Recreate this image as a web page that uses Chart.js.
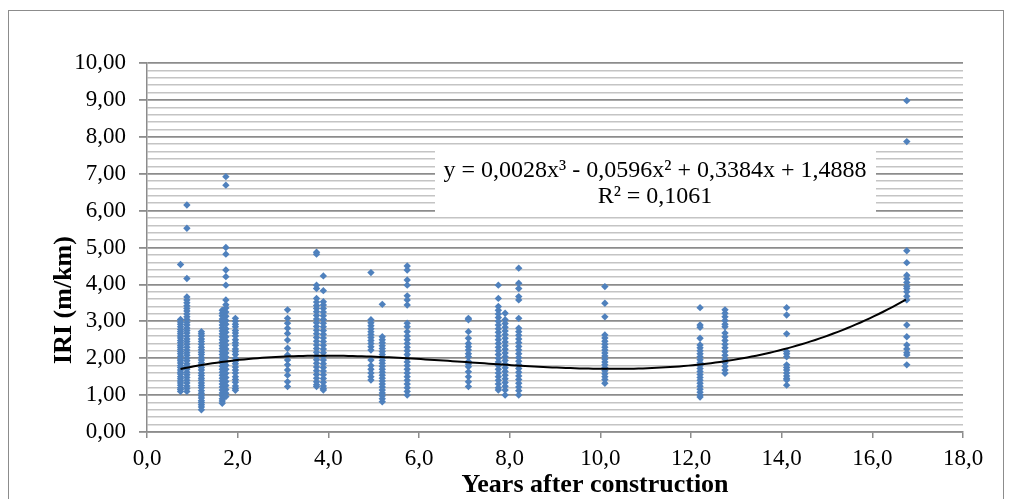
<!DOCTYPE html>
<html>
<head>
<meta charset="utf-8">
<script src="https://cdn.jsdelivr.net/npm/chart.js@4/dist/chart.umd.min.js"></script>
<style>
  body { margin: 0; background: #fff; }
  #wrap { position: absolute; left: 0; top: 0; width: 1011px; height: 499px; }
  #frame { position: absolute; left: 8px; top: 10px; width: 994px; height: 520px; border: 1px solid #8c8c8c; }
  canvas { position: absolute; left: 0; top: 0; }
</style>
</head>
<body>
<div id="wrap">
  <div id="frame"></div>
  <canvas id="iriChart" width="1011" height="499"></canvas>
</div>
<script>
// Years after construction for each measured section group
const ages = [0.74, 0.88, 1.20, 1.66, 1.74, 1.95, 3.10, 3.74, 3.89, 4.94, 5.19, 5.74,
              7.09, 7.75, 7.90, 8.20, 10.10, 12.20, 12.75, 14.11, 16.76];

// IRI readings (m/km) for each group, same order as ages
const iriValues = [
  [4.54, 3.05, 2.98, 2.92, 2.85, 2.78, 2.72, 2.66, 2.60, 2.55, 2.48, 2.42, 2.35, 2.30, 2.24, 2.18, 2.12,
   2.05, 1.98, 1.93, 1.87, 1.80, 1.75, 1.68, 1.62, 1.57, 1.50, 1.44, 1.38, 1.33, 1.27, 1.20, 1.15, 1.10],
  [6.15, 5.52, 4.16, 3.66, 3.58, 3.50, 3.42, 3.35, 3.28, 3.20, 3.12, 3.05, 2.97, 2.90, 2.82, 2.75, 2.68,
   2.60, 2.52, 2.45, 2.38, 2.30, 2.22, 2.15, 2.08, 2.00, 1.93, 1.85, 1.78, 1.70, 1.62, 1.55, 1.48, 1.40,
   1.33, 1.25, 1.18, 1.10],
  [2.72, 2.66, 2.60, 2.52, 2.45, 2.38, 2.30, 2.23, 2.16, 2.10, 2.02, 1.95, 1.88, 1.82, 1.75, 1.68, 1.60,
   1.53, 1.46, 1.40, 1.33, 1.26, 1.20, 1.12, 1.05, 0.98, 0.92, 0.85, 0.80, 0.74, 0.68, 0.60],
  [3.30, 3.22, 3.15, 3.06, 2.98, 2.90, 2.82, 2.74, 2.66, 2.58, 2.50, 2.42, 2.34, 2.26, 2.18, 2.10, 2.02,
   1.94, 1.86, 1.78, 1.70, 1.62, 1.54, 1.46, 1.38, 1.30, 1.22, 1.14, 1.06, 0.98, 0.90, 0.84, 0.78],
  [6.92, 6.69, 5.00, 4.82, 4.39, 4.21, 3.98, 3.58, 3.45, 3.36, 3.25, 3.14, 3.02, 2.92, 2.80, 2.70, 2.58,
   2.47, 2.36, 2.25, 2.14, 2.03, 1.92, 1.81, 1.70, 1.59, 1.48, 1.37, 1.26, 1.15, 1.05, 0.96],
  [3.08, 3.00, 2.92, 2.85, 2.75, 2.68, 2.60, 2.50, 2.42, 2.35, 2.25, 2.18, 2.10, 2.00, 1.92, 1.85, 1.76,
   1.68, 1.60, 1.50, 1.42, 1.35, 1.25, 1.18, 1.13],
  [3.31, 3.08, 2.95, 2.81, 2.67, 2.49, 2.27, 2.09, 1.95, 1.82, 1.68, 1.54, 1.36, 1.23],
  [4.87, 4.82, 3.98, 3.89, 3.62, 3.52, 3.43, 3.35, 3.26, 3.16, 3.06, 2.96, 2.86, 2.76, 2.66, 2.56, 2.46,
   2.36, 2.26, 2.16, 2.06, 1.96, 1.86, 1.76, 1.66, 1.56, 1.46, 1.36, 1.28, 1.23],
  [4.23, 3.83, 3.53, 3.44, 3.35, 3.25, 3.15, 3.05, 2.95, 2.85, 2.75, 2.65, 2.55, 2.45, 2.35, 2.25, 2.15,
   2.05, 1.95, 1.85, 1.75, 1.65, 1.55, 1.45, 1.35, 1.25, 1.18, 1.14],
  [4.32, 3.04, 2.96, 2.88, 2.80, 2.72, 2.64, 2.56, 2.48, 2.40, 2.31, 2.22, 1.95, 1.80, 1.70, 1.60, 1.50, 1.41],
  [3.46, 2.58, 2.50, 2.42, 2.34, 2.26, 2.18, 2.10, 2.02, 1.94, 1.86, 1.78, 1.70, 1.62, 1.54, 1.46, 1.38,
   1.30, 1.22, 1.14, 1.06, 0.98, 0.90, 0.82],
  [4.50, 4.39, 4.12, 3.98, 3.69, 3.58, 3.44, 2.95, 2.85, 2.72, 2.60, 2.50, 2.40, 2.30, 2.20, 2.10, 2.00,
   1.90, 1.80, 1.70, 1.60, 1.50, 1.40, 1.30, 1.20, 1.10, 1.00],
  [3.08, 3.04, 2.72, 2.54, 2.40, 2.31, 2.22, 2.12, 2.04, 1.91, 1.84, 1.77, 1.63, 1.50, 1.36, 1.23],
  [3.98, 3.62, 3.40, 3.30, 3.20, 3.10, 3.00, 2.90, 2.80, 2.70, 2.60, 2.50, 2.40, 2.30, 2.20, 2.10, 2.00,
   1.90, 1.80, 1.70, 1.60, 1.50, 1.40, 1.30, 1.20, 1.14],
  [3.22, 3.04, 2.94, 2.84, 2.74, 2.64, 2.54, 2.44, 2.34, 2.24, 2.14, 2.04, 1.94, 1.84, 1.74, 1.64, 1.54,
   1.44, 1.34, 1.24, 1.14, 1.00],
  [4.44, 4.03, 3.89, 3.67, 3.58, 3.08, 2.81, 2.72, 2.62, 2.52, 2.42, 2.32, 2.22, 2.12, 2.02, 1.92, 1.82,
   1.72, 1.62, 1.52, 1.42, 1.32, 1.22, 1.12, 1.00],
  [3.94, 3.49, 3.12, 2.63, 2.55, 2.46, 2.38, 2.30, 2.22, 2.14, 2.06, 1.98, 1.90, 1.82, 1.74, 1.66, 1.58,
   1.50, 1.42, 1.32],
  [3.37, 2.90, 2.84, 2.54, 2.36, 2.28, 2.20, 2.12, 2.04, 1.96, 1.88, 1.80, 1.72, 1.64, 1.56, 1.48, 1.40,
   1.32, 1.24, 1.16, 1.08, 1.00, 0.95],
  [3.31, 3.22, 3.12, 3.02, 2.92, 2.85, 2.68, 2.58, 2.48, 2.38, 2.28, 2.18, 2.08, 1.98, 1.88, 1.78, 1.68, 1.59],
  [3.37, 3.17, 2.66, 2.18, 2.12, 2.04, 1.82, 1.75, 1.68, 1.60, 1.52, 1.45, 1.41, 1.27],
  [8.98, 7.87, 4.91, 4.59, 4.25, 4.15, 4.05, 3.95, 3.89, 3.80, 3.68, 3.58, 2.90, 2.58, 2.36, 2.25, 2.15, 2.09, 1.82]
];

// Polynomial trendline shown in the chart: c0 + c1*x + c2*x^2 + c3*x^3
const trendCoefs = [1.4888, 0.3384, -0.0596, 0.0028];
const trendRange = [0.74, 16.76];
const xTicks = [0, 2, 4, 6, 8, 10, 12, 14, 16, 18];

const equationLines = ["y = 0,0028x³ - 0,0596x² + 0,3384x + 1,4888", "R² = 0,1061"];
const yTitle = "IRI (m/km)";
const xTitle = "Years after construction";

const scatterPoints = [];
ages.forEach((age, i) => {
  iriValues[i].forEach((v) => scatterPoints.push({ x: age, y: v }));
});

const trendPoints = [];
for (let x = trendRange[0]; x <= trendRange[1] + 1e-9; x += 0.1) {
  const y = trendCoefs[0] + trendCoefs[1] * x + trendCoefs[2] * x * x + trendCoefs[3] * x * x * x;
  trendPoints.push({ x: x, y: y });
}

const serif = "'Liberation Serif', 'Times New Roman', serif";
const isMajor = (v) => Math.abs(v - Math.round(v)) < 1e-6;

// equation box and both axis titles (titles sit off-centre in the original)
const extras = {
  id: "extras",
  afterDatasetsDraw(chart) {
    const ctx = chart.ctx;
    ctx.save();
    ctx.fillStyle = "#fff";
    ctx.fillRect(435, 146, 441, 70);
    ctx.fillStyle = "#000";
    ctx.font = "24px " + serif;
    ctx.textAlign = "center";
    ctx.textBaseline = "middle";
    ctx.fillText(equationLines[0], 655, 171);
    ctx.fillText(equationLines[1], 655, 197);

    ctx.font = "bold 26px " + serif;
    ctx.fillText(xTitle, 595, 485);

    ctx.translate(64, 300);
    ctx.rotate(-Math.PI / 2);
    ctx.fillText(yTitle, 0, 0);
    ctx.restore();
  }
};

new Chart(document.getElementById("iriChart").getContext("2d"), {
  type: "scatter",
  data: {
    datasets: [
      {
        label: "IRI",
        data: scatterPoints,
        pointStyle: "rectRot",
        pointRadius: 3.7,
        backgroundColor: "#4F81BD",
        borderColor: "#4F81BD",
        borderWidth: 0,
        order: 2
      },
      {
        label: "Trend",
        data: trendPoints,
        showLine: true,
        borderColor: "#000",
        borderWidth: 2,
        pointRadius: 0,
        tension: 0,
        order: 1
      }
    ]
  },
  options: {
    responsive: false,
    animation: false,
    layout: { padding: { left: 50, top: 63, right: 48, bottom: 0 } },
    plugins: {
      legend: { display: false },
      tooltip: { enabled: false }
    },
    scales: {
      x: {
        type: "linear",
        min: 0,
        max: 18,
        afterBuildTicks: (axis) => { axis.ticks = xTicks.map((v) => ({ value: v })); },
        afterFit: (axis) => { axis.height = 67; },
        border: { color: "#8c8c8c", width: 1.5 },
        grid: { drawOnChartArea: false, tickLength: 6, color: "#8c8c8c", lineWidth: 1.5 },
        ticks: {
          color: "#000",
          padding: 7,
          maxRotation: 0,
          font: { family: serif, size: 23 },
          callback: (v) => v.toFixed(1).replace(".", ",")
        },
        title: { display: false }
      },
      y: {
        min: 0,
        max: 10,
        afterFit: (axis) => { axis.width = 97; },
        border: { color: "#8c8c8c", width: 1.5 },
        grid: {
          tickLength: 8,
          color: (c) => isMajor(c.tick.value) ? "#8c8c8c" : "#c4c4c4",
          lineWidth: (c) => isMajor(c.tick.value) ? 1.8 : 1.5,
          tickColor: (c) => isMajor(c.tick.value) ? "#8c8c8c" : "rgba(0,0,0,0)"
        },
        ticks: {
          stepSize: 0.2,
          autoSkip: false,
          color: "#000",
          padding: 13,
          font: { family: serif, size: 23 },
          callback: (v) => isMajor(v) ? Math.round(v).toFixed(2).replace(".", ",") : ""
        },
        title: { display: false }
      }
    }
  },
  plugins: [extras]
});
</script>
</body>
</html>
